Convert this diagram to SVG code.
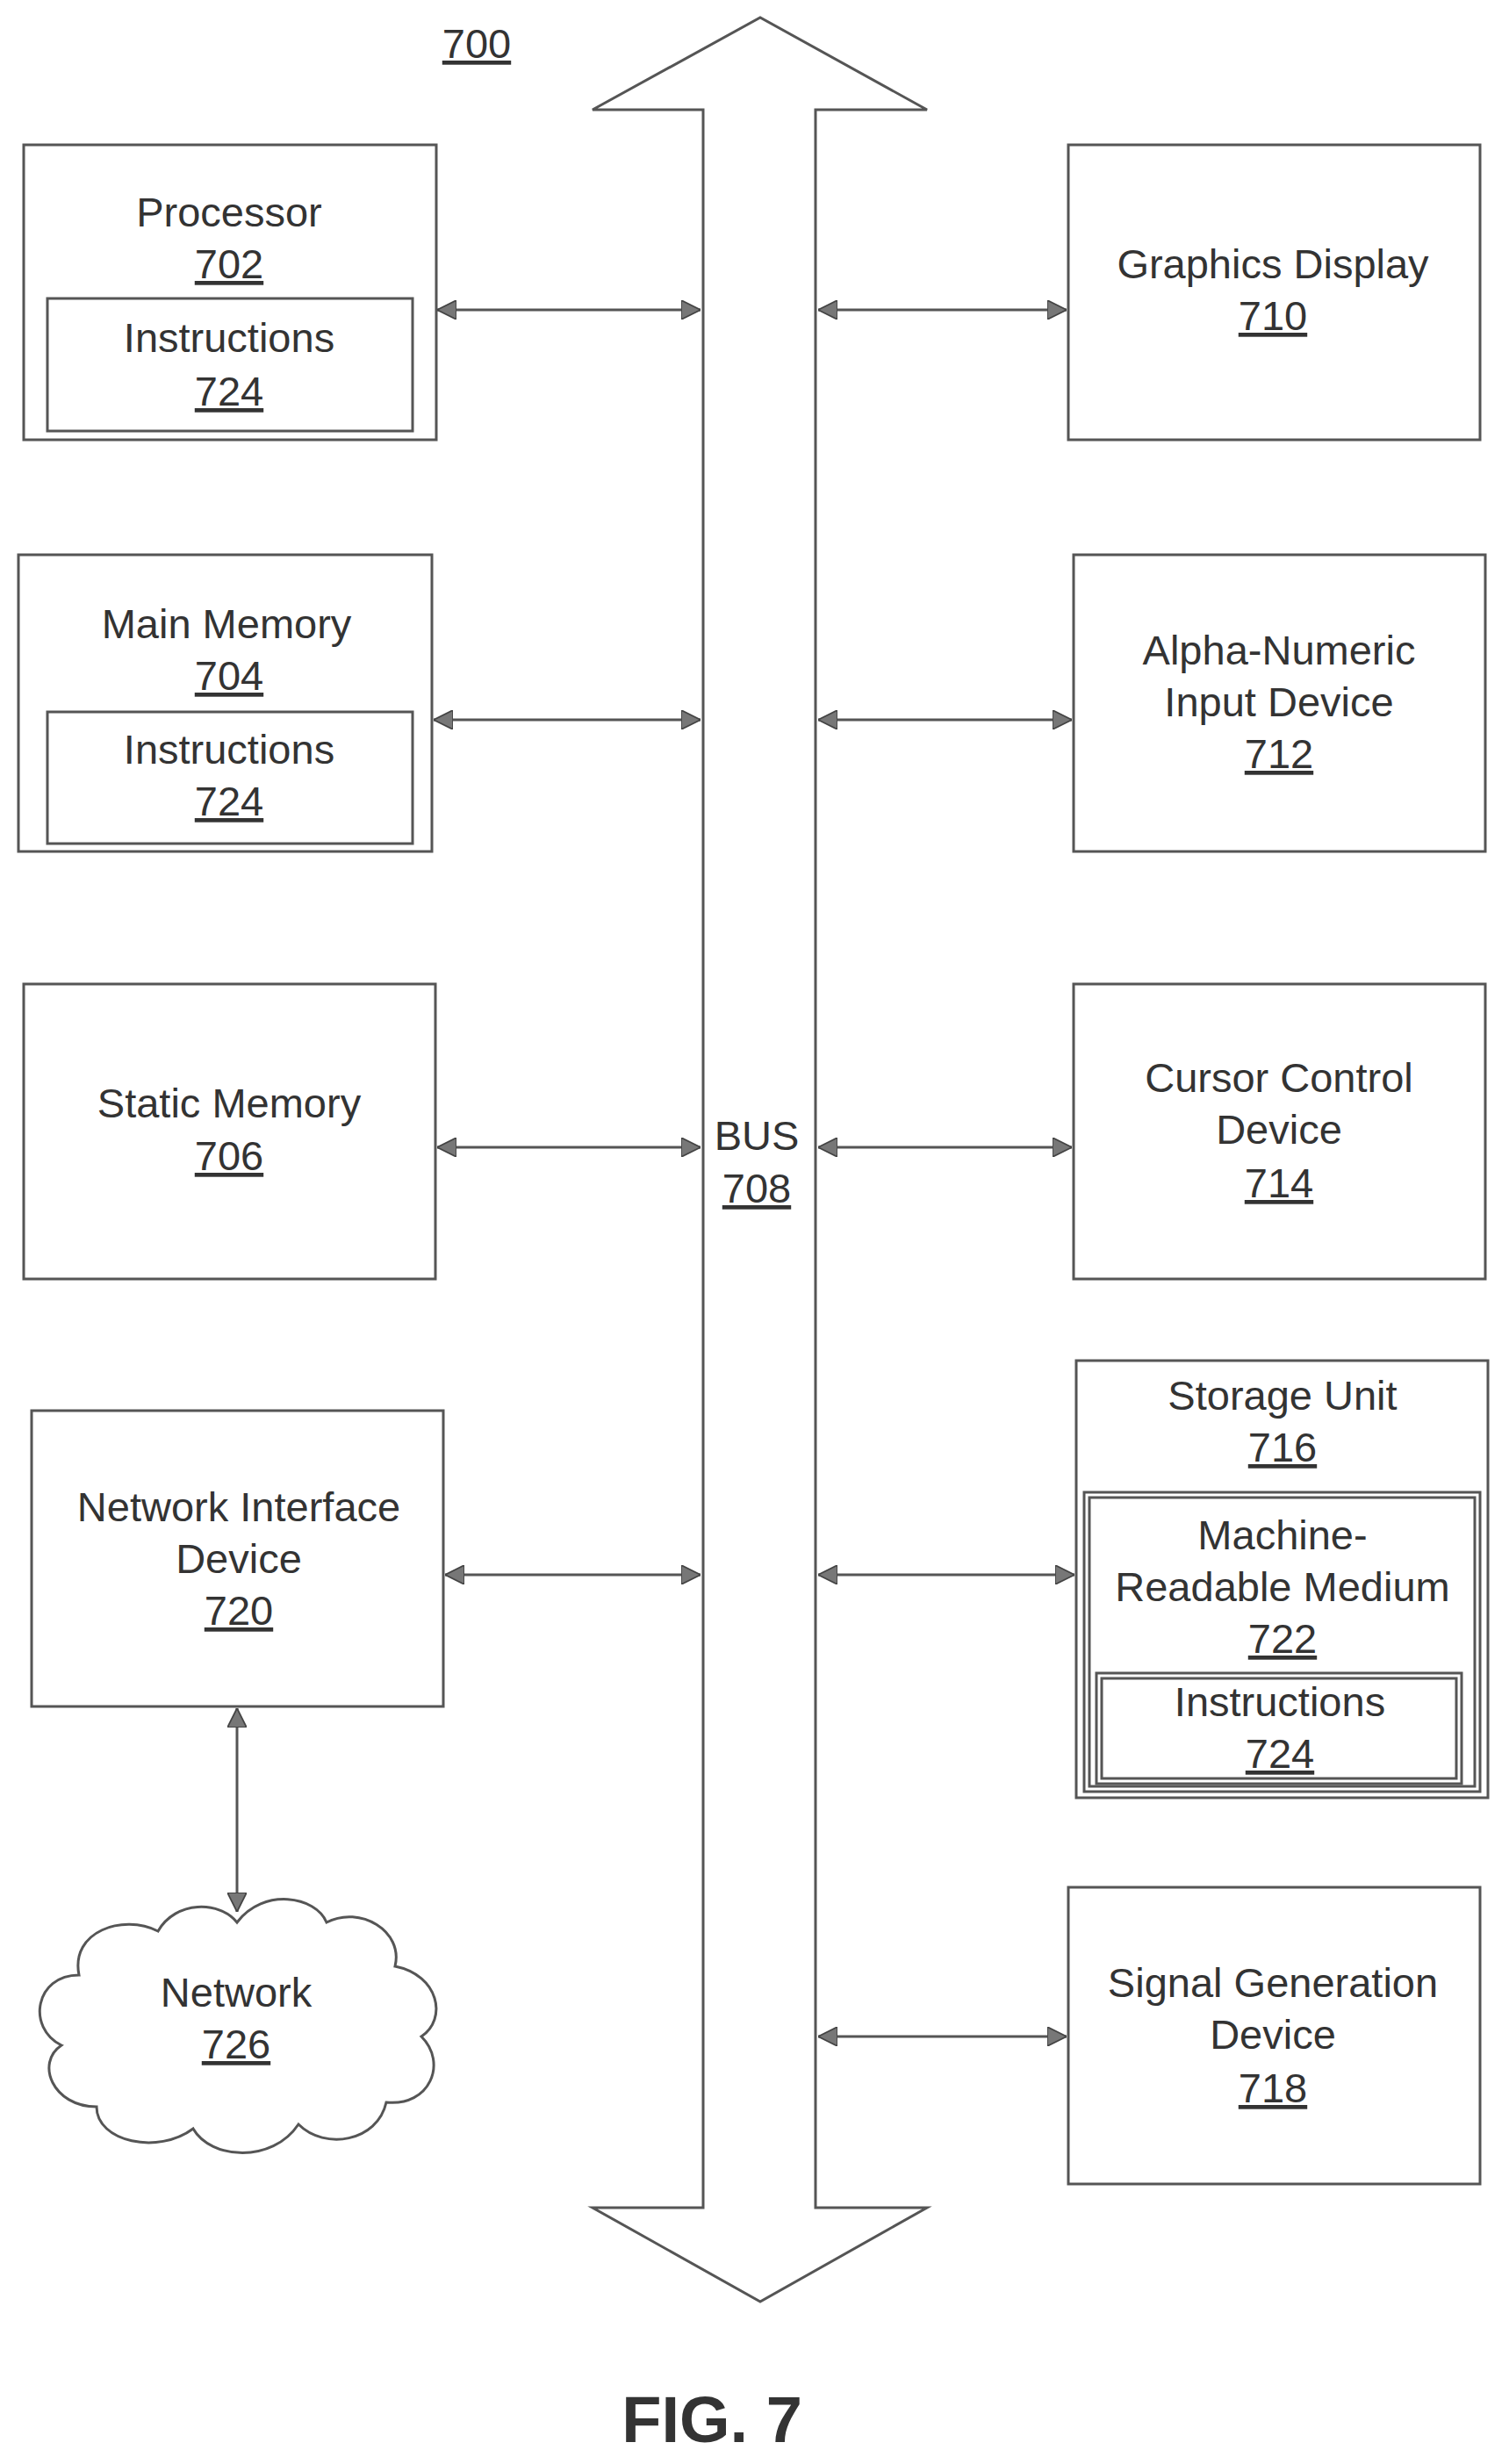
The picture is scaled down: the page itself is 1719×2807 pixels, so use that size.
<svg xmlns="http://www.w3.org/2000/svg" width="1719" height="2807" viewBox="0 0 1719 2807">
<defs>
<style>
.b{fill:none;stroke:#555;stroke-width:3}
.t{font-family:"Liberation Sans",Arial,sans-serif;font-size:47px;fill:#333;text-anchor:middle}
.u{text-decoration:underline}
.c{fill:none;stroke:#555;stroke-width:3}
</style>
<marker id="a" viewBox="0 0 10 10" refX="10" refY="5" markerWidth="22" markerHeight="22" markerUnits="userSpaceOnUse" orient="auto-start-reverse"><path d="M0,0L10,5L0,10z" fill="#777" stroke="#444" stroke-width="0.8"/></marker>
</defs>
<rect width="1719" height="2807" fill="#fff"/>
<text class="t u" x="543" y="66">700</text>
<g id="bus">
<path class="b" d="M801,125 L675,125 L866,20 L1056,125 L929,125 L929,2515 L1056,2515 L866,2622 L675,2515 L801,2515 Z"/>
<text class="t" x="862" y="1310">BUS</text><text class="t u" x="862" y="1370">708</text>
</g>
<g id="processor"><rect class="b" x="27" y="165" width="470" height="336"/><rect class="b" x="54" y="340" width="416" height="151"/>
<text class="t" x="261" y="258">Processor</text><text class="t u" x="261" y="317">702</text><text class="t" x="261" y="401">Instructions</text><text class="t u" x="261" y="462">724</text></g>
<g id="mainmem"><rect class="b" x="21" y="632" width="471" height="338"/><rect class="b" x="54" y="811" width="416" height="150"/>
<text class="t" x="258" y="727">Main Memory</text><text class="t u" x="261" y="786">704</text><text class="t" x="261" y="870">Instructions</text><text class="t u" x="261" y="929">724</text></g>
<g id="static"><rect class="b" x="27" y="1121" width="469" height="336"/>
<text class="t" x="261" y="1273">Static Memory</text><text class="t u" x="261" y="1333">706</text></g>
<g id="nic"><rect class="b" x="36" y="1607" width="469" height="337"/>
<text class="t" x="272" y="1733">Network Interface</text><text class="t" x="272" y="1792">Device</text><text class="t u" x="272" y="1851">720</text></g>
<g id="network"><path class="b" d="M270,2190 C300,2150 360,2160 372,2190 C410,2170 460,2200 450,2240 C500,2250 510,2300 480,2320 C510,2350 490,2400 440,2395 C430,2440 370,2450 340,2420 C310,2465 240,2460 220,2425 C180,2455 110,2440 110,2400 C60,2400 40,2350 70,2330 C30,2310 40,2250 90,2250 C80,2200 140,2180 180,2200 C200,2165 250,2165 270,2190 Z"/>
<text class="t" x="269" y="2286">Network</text><text class="t u" x="269" y="2345">726</text></g>
<g id="gfx"><rect class="b" x="1217" y="165" width="469" height="336"/>
<text class="t" x="1450" y="317">Graphics Display</text><text class="t u" x="1450" y="376">710</text></g>
<g id="alpha"><rect class="b" x="1223" y="632" width="469" height="338"/>
<text class="t" x="1457" y="757">Alpha-Numeric</text><text class="t" x="1457" y="816">Input Device</text><text class="t u" x="1457" y="875">712</text></g>
<g id="cursor"><rect class="b" x="1223" y="1121" width="469" height="336"/>
<text class="t" x="1457" y="1244">Cursor Control</text><text class="t" x="1457" y="1303">Device</text><text class="t u" x="1457" y="1364">714</text></g>
<g id="storage"><rect class="b" x="1226" y="1550" width="469" height="498"/><rect class="b" x="1235" y="1700" width="451" height="341"/><rect class="b" x="1241" y="1706" width="439" height="329"/><rect class="b" x="1249" y="1906" width="416" height="126"/><rect class="b" x="1255" y="1912" width="404" height="114"/>
<text class="t" x="1461" y="1606">Storage Unit</text><text class="t u" x="1461" y="1665">716</text><text class="t" x="1461" y="1765">Machine-</text><text class="t" x="1461" y="1824">Readable Medium</text><text class="t u" x="1461" y="1883">722</text><text class="t" x="1458" y="1955">Instructions</text><text class="t u" x="1458" y="2014">724</text></g>
<g id="signal"><rect class="b" x="1217" y="2150" width="469" height="338"/>
<text class="t" x="1450" y="2275">Signal Generation</text><text class="t" x="1450" y="2334">Device</text><text class="t u" x="1450" y="2395">718</text></g>
<g id="connectors">
<line class="c" x1="498" y1="353" x2="798" y2="353" marker-start="url(#a)" marker-end="url(#a)"/>
<line class="c" x1="932" y1="353" x2="1215" y2="353" marker-start="url(#a)" marker-end="url(#a)"/>
<line class="c" x1="494" y1="820" x2="798" y2="820" marker-start="url(#a)" marker-end="url(#a)"/>
<line class="c" x1="932" y1="820" x2="1221" y2="820" marker-start="url(#a)" marker-end="url(#a)"/>
<line class="c" x1="498" y1="1307" x2="798" y2="1307" marker-start="url(#a)" marker-end="url(#a)"/>
<line class="c" x1="932" y1="1307" x2="1221" y2="1307" marker-start="url(#a)" marker-end="url(#a)"/>
<line class="c" x1="507" y1="1794" x2="798" y2="1794" marker-start="url(#a)" marker-end="url(#a)"/>
<line class="c" x1="932" y1="1794" x2="1224" y2="1794" marker-start="url(#a)" marker-end="url(#a)"/>
<line class="c" x1="932" y1="2320" x2="1215" y2="2320" marker-start="url(#a)" marker-end="url(#a)"/>
<line class="c" x1="270" y1="1946" x2="270" y2="2178" marker-start="url(#a)" marker-end="url(#a)"/>
</g>
<text x="811" y="2782" style="font-family:'Liberation Sans',Arial,sans-serif;font-size:74px;font-weight:bold;fill:#333;text-anchor:middle">FIG. 7</text>
</svg>
